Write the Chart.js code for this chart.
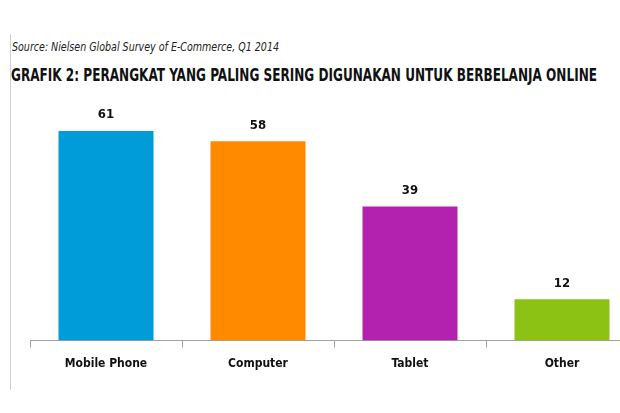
<!DOCTYPE html>
<html>
<head>
<meta charset="utf-8">
<script src="https://cdn.jsdelivr.net/npm/chart.js@4"></script>
<style>
  html, body { margin:0; padding:0; background:#fff; width:620px; height:413px; overflow:hidden; }
  #wrap { position:absolute; left:0; top:0; width:640px; height:413px; }
  #vline { position:absolute; left:10px; top:34px; width:1px; height:356px; background:#d0d0d0; }
  .txt { position:absolute; white-space:nowrap; transform-origin:0 0; color:#111; }
  #src { left:12px; top:40px; font:italic 12px "Liberation Sans Narrow","DejaVu Sans Condensed",sans-serif; color:#222; }
  #ttl { left:11px; top:65px; font:bold 17px "Liberation Sans Narrow","DejaVu Sans Condensed",sans-serif; color:#111; }
</style>
</head>
<body>
<div id="vline"></div>
<div class="txt" id="src">Source: Nielsen Global Survey of E-Commerce, Q1 2014</div>
<div class="txt" id="ttl">GRAFIK 2: PERANGKAT YANG PALING SERING DIGUNAKAN UNTUK BERBELANJA ONLINE</div>
<div id="wrap"><canvas id="c" width="638" height="413"></canvas></div>
<script>
const categories = ["Mobile Phone", "Computer", "Tablet", "Other"];
const values = [61, 58, 39, 12];
const barColors = ["#009CDA", "#FF8A00", "#B322AF", "#8CC214"];

function fitWidth(id, w) {
  const el = document.getElementById(id);
  const r = el.getBoundingClientRect().width;
  el.style.transform = "scaleX(" + (w / r) + ")";
}
fitWidth("src", 267);
fitWidth("ttl", 586);

const valueLabels = {
  id: "valueLabels",
  afterDatasetsDraw(chart) {
    const ctx = chart.ctx;
    const meta = chart.getDatasetMeta(0);
    ctx.save();
    ctx.font = 'bold 13px "Liberation Sans Narrow","DejaVu Sans Condensed",sans-serif';
    ctx.fillStyle = "#111";
    ctx.textAlign = "center";
    ctx.textBaseline = "middle";
    meta.data.forEach((bar, i) => {
      ctx.fillText(String(values[i]), bar.x, bar.y - 16);
    });
    ctx.restore();
  }
};

new Chart(document.getElementById("c"), {
  type: "bar",
  data: {
    labels: categories,
    datasets: [{ data: values, backgroundColor: barColors, borderWidth: 0,
                 barPercentage: 1, categoryPercentage: 0.625 }]
  },
  options: {
    responsive: false,
    animation: false,
    layout: { padding: { left: 30, right: 0, top: 100, bottom: 33 } },
    plugins: { legend: { display: false }, tooltip: { enabled: false } },
    scales: {
      x: {
        grid: { display: true, drawOnChartArea: false, drawTicks: true, tickLength: 7, color: "#a0a0a0", offset: true },
        border: { display: true, color: "#a0a0a0", width: 1 },
        ticks: { color: "#111", padding: 9, font: { family: '"Liberation Sans Narrow","DejaVu Sans Condensed",sans-serif', size: 12, weight: "bold" } }
      },
      y: { display: false, min: 0, max: 70 }
    }
  },
  plugins: [valueLabels]
});
</script>
</body>
</html>
